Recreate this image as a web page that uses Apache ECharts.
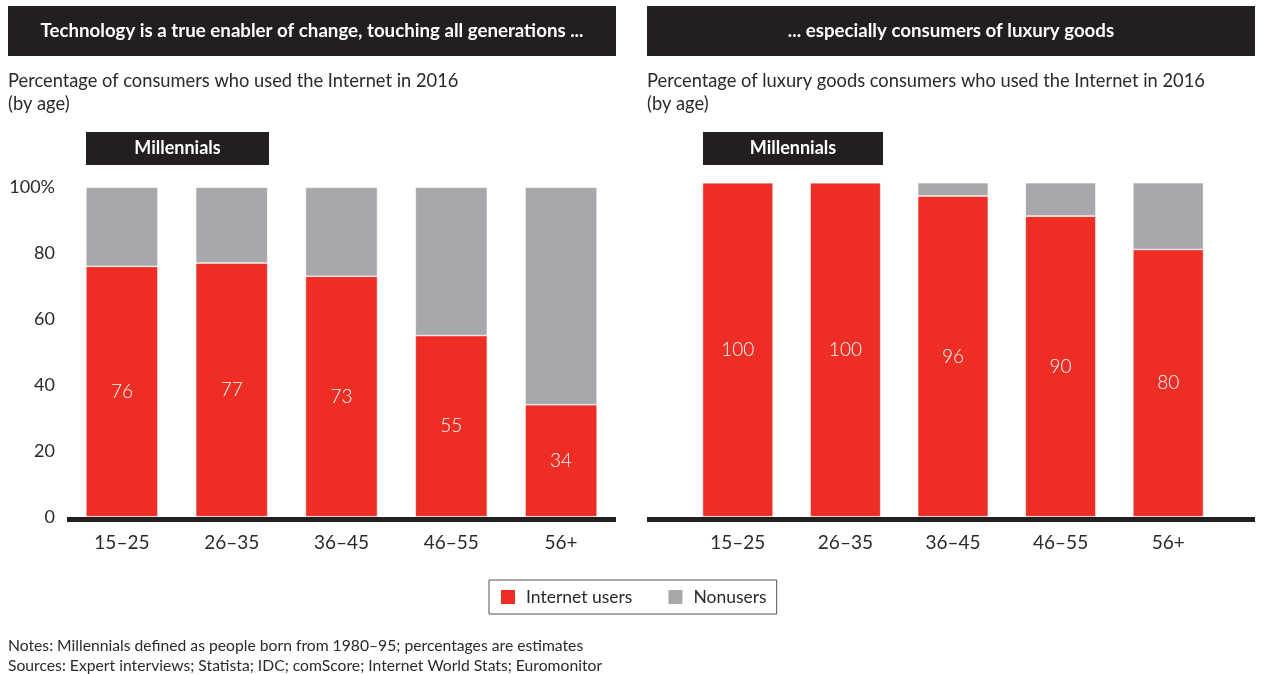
<!DOCTYPE html>
<html><head><meta charset="utf-8">
<script src="https://cdn.jsdelivr.net/npm/echarts@6/dist/echarts.min.js"></script>
<style>html,body{margin:0;padding:0;background:#fff}#c{width:1266px;height:674px}</style>
</head><body><div id="c"></div>
<script>
const categories = ['15–25','26–35','36–45','46–55','56+'];
const allUsers = [76,77,73,55,34];
const allNonusers = [24,23,27,45,66];
const luxUsers = [100,100,96,90,80];
const luxNonusers = [0,0,4,10,20];
const yTicks = [0,20,40,60,80,100];
const leftHeader = 'Technology is a true enabler of change, touching all generations ...';
const rightHeader = '... especially consumers of luxury goods';
const leftSub = 'Percentage of consumers who used the Internet in 2016\n(by age)';
const rightSub = 'Percentage of luxury goods consumers who used the Internet in 2016\n(by age)';
const notes = 'Notes: Millennials defined as people born from 1980–95; percentages are estimates\nSources: Expert interviews; Statista; IDC; comScore; Internet World Stats; Euromonitor';

const RED = '#EE2E24', GRAY = '#A7A8AC', DARK = '#231F20', TXT = '#2a2a2a';
const FONT = 'Lato, "Open Sans", sans-serif';

const chart = echarts.init(document.getElementById('c'), null, {renderer:'canvas'});

function barSeries(name, data, idx, color, showLabel){
  return {
    name, type:'bar', stack:'s'+idx, xAxisIndex:idx, yAxisIndex:idx,
    data, barWidth:'65.6%',
    itemStyle:{color, borderColor:'#fff', borderWidth:0.6},
    label:{show:showLabel, position:'inside', color:'#fff', fontSize:19, fontFamily:FONT, fontWeight:300},
    emphasis:{disabled:true}, animation:false
  };
}

function header(x, w, text){
  return {type:'group', children:[
    {type:'rect', shape:{x, y:6, width:w, height:50}, style:{fill:DARK}},
    {type:'text', x:x+w/2, y:31, style:{text, fill:'#fff', font:'bold 18.7px '+FONT, textAlign:'center', textVerticalAlign:'middle'}}
  ]};
}
function mill(x, w){
  return {type:'group', children:[
    {type:'rect', shape:{x, y:132, width:w, height:33}, style:{fill:DARK}},
    {type:'text', x:x+w/2, y:148.5, style:{text:'Millennials', fill:'#fff', font:'bold 18px '+FONT, textAlign:'center', textVerticalAlign:'middle'}}
  ]};
}

chart.setOption({
  animation:false,
  grid:[
    {left:67, right:650, top:187.3, bottom:157.3},
    {left:684, right:44, top:182.7, bottom:157.3}
  ],
  xAxis:[0,1].map(i=>({
    type:'category', gridIndex:i, data:categories,
    axisLine:{show:false}, axisTick:{show:false},
    axisLabel:{color:TXT, fontSize:19, fontFamily:FONT, margin:17}
  })),
  yAxis:[
    {type:'value', gridIndex:0, min:0, max:100, interval:20, splitLine:{show:false},
     axisLine:{show:false}, axisTick:{show:false},
     axisLabel:{color:TXT, fontSize:18, fontFamily:FONT, margin:12, formatter:v=> v===100?'100%':String(v)}},
    {type:'value', gridIndex:1, min:0, max:100, interval:20, splitLine:{show:false},
     axisLine:{show:false}, axisTick:{show:false}, axisLabel:{show:false}}
  ],
  legend:{
    data:['Internet users','Nonusers'], left:489, top:580, orient:'horizontal',
    itemWidth:16, itemHeight:16, itemGap:34, icon:'rect',
    padding:[8,10,8,10], borderColor:'#555', borderWidth:1,
    textStyle:{color:TXT, fontSize:17.5, fontFamily:FONT, padding:[0,0,0,5]},
    selectedMode:false
  },
  series:[
    barSeries('Internet users', allUsers, 0, RED, true),
    barSeries('Nonusers', allNonusers, 0, GRAY, false),
    barSeries('Internet users', luxUsers, 1, RED, true),
    barSeries('Nonusers', luxNonusers, 1, GRAY, false)
  ],
  graphic:[
    header(8, 608, leftHeader),
    header(647, 608, rightHeader),
    {type:'text', left:8, top:70, style:{text:leftSub, fill:TXT, font:'18.3px '+FONT, lineHeight:23}},
    {type:'text', left:647, top:70, style:{text:rightSub, fill:TXT, font:'18.3px '+FONT, lineHeight:23}},
    mill(86, 183),
    mill(703, 180),
    {type:'rect', z:100, shape:{x:67, y:517, width:549, height:5}, style:{fill:DARK}},
    {type:'rect', z:100, shape:{x:647, y:517, width:608, height:5}, style:{fill:DARK}},
    {type:'text', left:8, top:636, style:{text:notes, fill:TXT, font:'15.7px '+FONT, lineHeight:20}}
  ]
});
</script></body></html>
